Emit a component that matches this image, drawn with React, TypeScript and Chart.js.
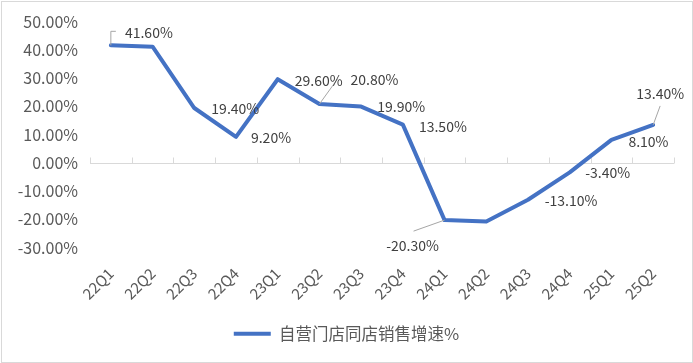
import React, { useEffect, useRef } from "react";
import { Chart, registerables } from "chart.js";

Chart.register(...registerables);

const categories = ["22Q1", "22Q2", "22Q3", "22Q4", "23Q1", "23Q2", "23Q3", "23Q4", "24Q1", "24Q2", "24Q3", "24Q4", "25Q1", "25Q2"];
const growth = [41.6, 41.1, 19.4, 9.2, 29.6, 20.8, 19.9, 13.5, -20.3, -20.8, -13.1, -3.4, 8.1, 13.4];
const showLabel = [true, false, true, true, true, true, true, true, true, false, true, true, true, true];
const seriesName = "自营门店同店销售增速%";
const yTicks = [-30, -20, -10, 0, 10, 20, 30, 40, 50];

// label placement (style only): offset of label centre from its point
const labelOffsets: [number, number][] = [
  [38, -13], [0, 0], [41, 1], [35, 1], [41, 1], [55, -24], [40, 0], [40, 2], [-32, 26], [0, 0], [43, 1], [38, 0], [37, 2], [7, -31],
];
// leader lines (style only): relative path from point, or null
const leaders: ([number, number][] | null)[] = [
  [[0, -14], [5, -14]], null, null, null, null, [[18, -25]], null, null, [[-31, 11]], null, null, null, null, [[7, -19]],
];

const FONT = "'Noto Sans CJK SC', 'Noto Sans', sans-serif";

const decorPlugin = {
  id: "decor",
  beforeDraw(chart: any) {
    const ctx = chart.ctx;
    ctx.save();
    ctx.fillStyle = "#ffffff";
    ctx.fillRect(0, 0, chart.width, chart.height);
    ctx.strokeStyle = "#D9D9D9";
    ctx.lineWidth = 1;
    ctx.strokeRect(1.5, 1.5, chart.width - 2, chart.height - 2);
    ctx.restore();
  },
  beforeDatasetsDraw(chart: any) {
    const ctx = chart.ctx;
    const { left, right } = chart.chartArea;
    const y0 = Math.round(chart.scales.y.getPixelForValue(0)) + 0.5;
    ctx.save();
    ctx.strokeStyle = "#D9D9D9";
    ctx.lineWidth = 1;
    ctx.beginPath();
    ctx.moveTo(left, y0);
    ctx.lineTo(right, y0);
    const n = categories.length;
    for (let i = 0; i <= n; i++) {
      const x = Math.round(left + (i * (right - left)) / n) + 0.5;
      ctx.moveTo(x, y0);
      ctx.lineTo(x, y0 - 6);
    }
    ctx.stroke();
    ctx.restore();
  },
  afterDatasetsDraw(chart: any) {
    const ctx = chart.ctx;
    const meta = chart.getDatasetMeta(0);
    ctx.save();
    meta.data.forEach((pt: any, i: number) => {
      const path = leaders[i];
      if (path) {
        ctx.strokeStyle = "#A6A6A6";
        ctx.lineWidth = 1;
        ctx.beginPath();
        ctx.moveTo(pt.x, pt.y);
        path.forEach(([dx, dy]) => ctx.lineTo(pt.x + dx, pt.y + dy));
        ctx.stroke();
      }
    });
    ctx.font = `14px ${FONT}`;
    ctx.fillStyle = "#404040";
    ctx.textAlign = "center";
    ctx.textBaseline = "middle";
    meta.data.forEach((pt: any, i: number) => {
      if (!showLabel[i]) return;
      const [dx, dy] = labelOffsets[i];
      ctx.fillText(growth[i].toFixed(2) + "%", pt.x + dx, pt.y + dy);
    });
    ctx.restore();
  },
};

export default function App() {
  const ref = useRef<HTMLCanvasElement>(null);
  useEffect(() => {
    if (!ref.current) return;
    const chart = new Chart(ref.current, {
      type: "line",
      data: {
        labels: categories,
        datasets: [
          {
            label: seriesName,
            data: growth,
            borderColor: "#4472C4",
            backgroundColor: "#4472C4",
            borderWidth: 4,
            pointRadius: 0,
            tension: 0,
            fill: false,
            borderJoinStyle: "round",
            borderCapStyle: "round",
          },
        ],
      },
      options: {
        animation: false,
        responsive: true,
        maintainAspectRatio: false,
        layout: { padding: { left: 0, right: 0, top: 19, bottom: 11 } },
        plugins: {
          tooltip: { enabled: false },
          legend: {
            position: "bottom",
            labels: {
              font: { size: 16.5, family: FONT },
              color: "#595959",
              boxWidth: 37,
              boxHeight: 4,
              generateLabels: () => [
                {
                  text: seriesName,
                  fillStyle: "#4472C4",
                  strokeStyle: "#4472C4",
                  lineWidth: 0,
                  fontColor: "#595959",
                  datasetIndex: 0,
                } as any,
              ],
            },
          },
        },
        scales: {
          x: {
            offset: true,
            grid: { display: false, drawTicks: false },
            border: { display: false },
            ticks: {
              minRotation: 45,
              maxRotation: 45,
              autoSkip: false,
              padding: 17,
              font: { size: 15, family: FONT },
              color: "#595959",
            },
            afterFit: (s: any) => {
              s.height = 68;
            },
          },
          y: {
            min: -30,
            max: 50,
            afterBuildTicks: (s: any) => {
              s.ticks = yTicks.map((v) => ({ value: v }));
            },
            grid: { display: false, drawTicks: false },
            border: { display: false },
            ticks: {
              padding: 12,
              font: { size: 16, family: FONT },
              color: "#595959",
              callback: (v: any) => Number(v).toFixed(2) + "%",
            },
            afterFit: (s: any) => {
              s.width = 90;
            },
          },
          yRight: {
            position: "right",
            min: -30,
            max: 50,
            grid: { display: false, drawTicks: false },
            border: { display: false },
            ticks: { display: false },
            afterFit: (s: any) => {
              s.width = 19;
            },
          },
        },
      },
      plugins: [decorPlugin],
    });
    return () => chart.destroy();
  }, []);
  return (
    <div style={{ position: "fixed", left: 0, top: 0, width: 693, height: 363 }}>
      <canvas ref={ref} />
    </div>
  );
}
